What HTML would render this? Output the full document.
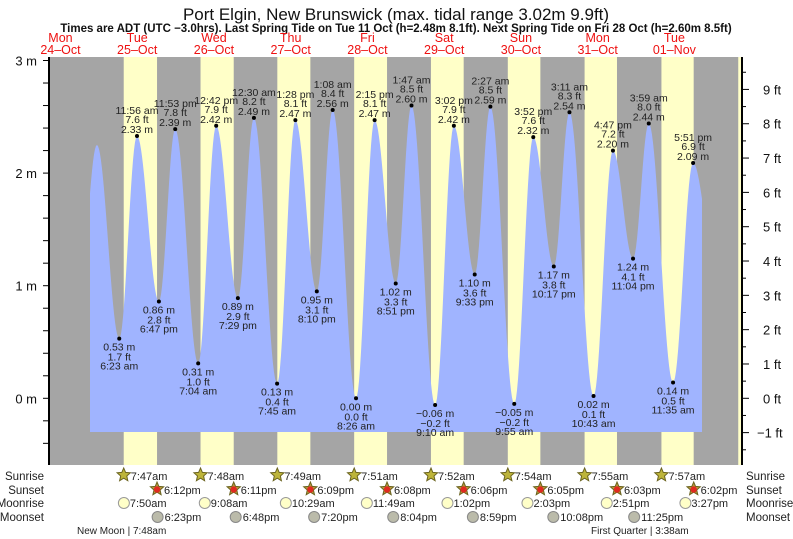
<!DOCTYPE html>
<html><head><meta charset="utf-8">
<style>
body{margin:0;background:#fff;width:793px;height:539px;overflow:hidden}
svg{display:block;font-family:"Liberation Sans",sans-serif}
</style></head>
<body>
<svg id="chart" width="793" height="539" viewBox="0 0 793 539" xmlns="http://www.w3.org/2000/svg">
<text x="396" y="20" font-size="17" text-anchor="middle" fill="#111">Port Elgin, New Brunswick (max. tidal range 3.02m 9.9ft)</text>
<text x="396" y="32" font-size="11.5" font-weight="bold" text-anchor="middle" fill="#111">Times are ADT (UTC −3.0hrs). Last Spring Tide on Tue 11 Oct (h=2.48m 8.1ft). Next Spring Tide on Fri 28 Oct (h=2.60m 8.5ft)</text>
<g id="bg"></g><g id="water"></g><g id="axes"></g><g id="labels"></g><g id="astro"></g>
</svg>
<script>
const dayNames=["Mon","Tue","Wed","Thu","Fri","Sat","Sun","Mon","Tue"];
const dayDates=["24–Oct","25–Oct","26–Oct","27–Oct","28–Oct","29–Oct","30–Oct","31–Oct","01–Nov"];
const tideDays=[0,0,1,1,1,1,2,2,2,3,3,3,3,4,4,4,4,5,5,5,5,6,6,6,6,7,7,7,7,8,8,8,9];
const tideHours=[17.5,23.4,6.383,11.933,18.783,23.883,7.067,12.7,19.483,0.5,7.75,13.467,20.167,1.133,8.433,14.25,20.85,1.783,9.167,15.033,21.55,2.45,9.917,15.867,22.283,3.183,10.717,16.783,23.067,3.983,11.583,17.85,0.2];
const tideHeights=[0.8,2.25,0.53,2.33,0.86,2.39,0.31,2.42,0.89,2.49,0.13,2.47,0.95,2.56,0.00,2.47,1.02,2.60,-0.06,2.42,1.10,2.59,-0.05,2.32,1.17,2.54,0.02,2.20,1.24,2.44,0.14,2.09,1.3];
const tideFt=["","","1.7","7.6","2.8","7.8","1.0","7.9","2.9","8.2","0.4","8.1","3.1","8.4","0.0","8.1","3.3","8.5","−0.2","7.9","3.6","8.5","−0.2","7.6","3.8","8.3","0.1","7.2","4.1","8.0","0.5","6.9",""];
const tideTimes=["","","6:23 am","11:56 am","6:47 pm","11:53 pm","7:04 am","12:42 pm","7:29 pm","12:30 am","7:45 am","1:28 pm","8:10 pm","1:08 am","8:26 am","2:15 pm","8:51 pm","1:47 am","9:10 am","3:02 pm","9:33 pm","2:27 am","9:55 am","3:52 pm","10:17 pm","3:11 am","10:43 am","4:47 pm","11:04 pm","3:59 am","11:35 am","5:51 pm",""];
const sunDays=[1,2,3,4,5,6,7,8];
const sunrise=["7:47am","7:48am","7:49am","7:51am","7:52am","7:54am","7:55am","7:57am"];
const sunset=["6:12pm","6:11pm","6:09pm","6:08pm","6:06pm","6:05pm","6:03pm","6:02pm"];
const moonrise=["7:50am","9:08am","10:29am","11:49am","1:02pm","2:03pm","2:51pm","3:27pm"];
const moonsetDays=[1,2,3,4,5,6,7];
const moonset=["6:23pm","6:48pm","7:20pm","8:04pm","8:59pm","10:08pm","11:25pm"];
const mTicks=[0,1,2,3];
const ftTicks=[-1,0,1,2,3,4,5,6,7,8,9];

const NS="http://www.w3.org/2000/svg";
const L=49,R=742,T=57,B=465,X0=22.1,DW=76.74,Y0=398.3,PM=112.6;
const xt=(d,h)=>X0+DW*(d+h/24);
const ym=m=>Y0-m*PM;
const yft=f=>ym(f*0.3048);
function hrs(s){const m=s.match(/(\d+):(\d+)(am|pm)/);let h=+m[1]%12;if(m[3]=="pm")h+=12;return h+ +m[2]/60;}
function mk(tag,attrs,parent,txt){const e=document.createElementNS(NS,tag);for(const k in attrs)e.setAttribute(k,attrs[k]);if(txt!==undefined)e.textContent=txt;document.getElementById(parent).appendChild(e);return e;}

let e=mk("rect",{x:L,y:T,width:R-L,height:B-T,fill:"#a5a5a5"},"bg");


sunDays.forEach((d,i)=>{
  const x1=xt(d,hrs(sunrise[i])),x2=xt(d,hrs(sunset[i]));
  const r=mk("rect",{x:x1,y:T,width:x2-x1,height:B-T,fill:"#ffffc8"},"bg");
  
  
});
e=mk("rect",{x:xt(9,7.97),y:T,width:R-xt(9,7.97),height:B-T,fill:"#ffffc8"},"bg");



const tt=tideDays.map((d,i)=>d+tideHours[i]/24);
function level(t){for(let i=0;i<tt.length-1;i++){if(t>=tt[i]&&t<=tt[i+1]){const f=(t-tt[i])/(tt[i+1]-tt[i]);return tideHeights[i]+(tideHeights[i+1]-tideHeights[i])*(1-Math.cos(Math.PI*f))/2;}}return tideHeights[0];}
let pts=[];const xs=90,xe=702,yb=432;
pts.push(xs+","+yb);
for(let x=xs;x<=xe;x+=1){const t=(x-X0)/DW;pts.push(x+","+ym(level(t)).toFixed(1));}
pts.push(xe+","+yb);
e=mk("polygon",{points:pts.join(" "),fill:"#a0b4ff"},"water");



e=mk("line",{x1:L,y1:T,x2:L,y2:B,stroke:"#000","stroke-width":2},"axes");


e=mk("line",{x1:R,y1:T,x2:R,y2:B,stroke:"#000","stroke-width":2},"axes");


for(let k=-2;k<=15;k++){const y=ym(k*0.2);mk("line",{x1:L-6,y1:y,x2:L,y2:y,stroke:"#000"},"axes");}
mTicks.forEach(m=>{const t=mk("text",{x:37,y:ym(m)+5,"font-size":13,"text-anchor":"end",fill:"#111"},"axes",m+" m");

});
for(let k=-3;k<=19;k++){const y=yft(k*0.5);mk("line",{x1:R,y1:y,x2:R+(k%2?4:7),y2:y,stroke:"#000"},"axes");}
ftTicks.forEach(f=>{const t=mk("text",{x:f<0?757:763,y:yft(f)+5,"font-size":13,fill:"#111"},"axes",(f<0?"−"+(-f):f)+" ft");

});
dayNames.forEach((n,i)=>{const x=xt(i,12);
const a=mk("text",{x:x,y:42,"font-size":12.5,"text-anchor":"middle",fill:"#ee1111"},"axes",n);


const b=mk("text",{x:x,y:54,"font-size":12.5,"text-anchor":"middle",fill:"#ee1111"},"axes",dayDates[i]);

});

tideDays.forEach((d,i)=>{if(!tideTimes[i])return;
  const x=xt(d,tideHours[i]),y=ym(tideHeights[i]);
  const c=mk("circle",{cx:x,cy:y,r:2,fill:"#000"},"labels");
  
  
  const high=tideHeights[i]>1.5;
  const lines=high?[[tideTimes[i],-22],[tideFt[i]+" ft",-13],[tideHeights[i].toFixed(2)+" m",-3]]:[[tideHeights[i].toFixed(2)+" m",12],[tideFt[i]+" ft",22],[tideTimes[i],31]];
  lines.forEach(l=>{const t=mk("text",{x:x,y:y+l[1],"font-size":10.5,"text-anchor":"middle",fill:"#222"},"labels",l[0].replace("-","−"));
  
  });
});

const rows=[["Sunrise",480],["Sunset",494],["Moonrise",507],["Moonset",521]];
rows.forEach(r=>{
  const a=mk("text",{x:44,y:r[1],"font-size":11.5,"text-anchor":"end",fill:"#222"},"astro",r[0]);
  
  
  const b=mk("text",{x:746,y:r[1],"font-size":11.5,fill:"#222"},"astro",r[0]);
  
  
});
function star(cx,cy,fill,inner){let p=[];for(let k=0;k<10;k++){const a=-Math.PI/2+k*Math.PI/5,rr=k%2?3.2:7;p.push((cx+rr*Math.cos(a)).toFixed(1)+","+(cy+rr*Math.sin(a)).toFixed(1));}
  const s=mk("polygon",{points:p.join(" "),fill:fill,stroke:"#6b6420","stroke-width":1},"astro");
  if(inner){mk("circle",{cx:cx,cy:cy+0.5,r:3.2,fill:inner},"astro");}
  return s;}
sunDays.forEach((d,i)=>{
  let x=xt(d,hrs(sunrise[i]));
  let s=star(x,475,"#bdb43a");
  
  
  let t=mk("text",{x:x+7,y:480,"font-size":11,fill:"#222"},"astro",sunrise[i]);
  
  
  x=xt(d,hrs(sunset[i]));
  s=star(x,489,"#b89a3a","#e02a20");
  
  
  t=mk("text",{x:x+7,y:494,"font-size":11,fill:"#222"},"astro",sunset[i]);
  
  
  x=xt(d,hrs(moonrise[i]));
  s=mk("circle",{cx:x,cy:503,r:5.5,fill:"#ffffc8",stroke:"#999"},"astro");
  
  
  t=mk("text",{x:x+6,y:507,"font-size":11,fill:"#222"},"astro",moonrise[i]);
  
  
});
moonsetDays.forEach((d,i)=>{
  const x=xt(d,hrs(moonset[i]));
  const s=mk("circle",{cx:x,cy:517,r:5.5,fill:"#bbbbaa",stroke:"#888"},"astro");
  
  
  const t=mk("text",{x:x+7,y:521,"font-size":11,fill:"#222"},"astro",moonset[i]);
  
  
});
e=mk("text",{x:77,y:534,"font-size":10,fill:"#222"},"astro","New Moon | 7:48am");


e=mk("text",{x:591,y:534,"font-size":10,fill:"#222"},"astro","First Quarter | 3:38am");


</script>
</body></html>
